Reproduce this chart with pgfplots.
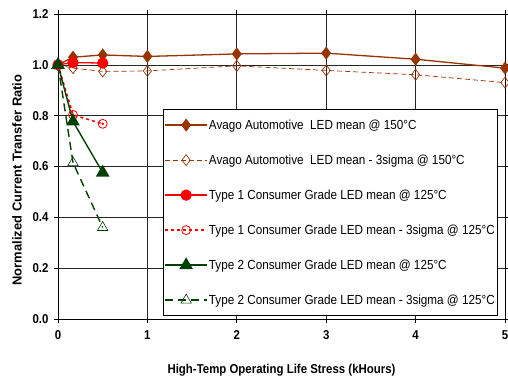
\documentclass[border=0pt]{standalone}
\usepackage{pgfplots}
\pgfplotsset{compat=1.18}
\usepackage{fontspec}
\setmainfont{Liberation Sans}
\newfontfamily\nfont[FakeStretch=0.89]{Liberation Sans}
\definecolor{avago}{RGB}{153,51,0}
\definecolor{tgreen}{RGB}{0,64,0}
\begin{document}
\begin{tikzpicture}[x=1bp,y=1bp]
\path[use as bounding box] (-58bp,-59bp) rectangle (450bp,319bp);
\begin{axis}[
  at={(0,0)}, anchor=south west,
  scale only axis,
  width=447bp, height=305bp,
  xmin=0, xmax=5, ymin=0, ymax=1.2,
  xtick={0,1,2,3,4,5},
  ytick={0,0.2,0.4,0.6,0.8,1.0,1.2},
  yticklabel style={/pgf/number format/fixed,/pgf/number format/fixed zerofill,/pgf/number format/precision=1},
  /pgf/number format/assume math mode=true,
  ticklabel style={font=\nfont\fontsize{12.9}{14}\selectfont\bfseries},
  xticklabel style={yshift=-4bp},
  yticklabel style={xshift=-2bp},
  xlabel={High-Temp Operating Life Stress (kHours)},
  ylabel={Normalized Current Transfer Ratio},
  xlabel style={font=\nfont\fontsize{12.9}{14}\selectfont\bfseries, at={(axis description cs:0.5,-0.167)}, anchor=center},
  ylabel style={font=\fontsize{13}{14}\selectfont\bfseries, at={(axis description cs:-0.092,0.456)}, anchor=center},
  grid=major,
  major grid style={black!85, line width=0.6pt},
  axis line style={black, line width=0.9pt},
  tick align=outside,
  major tick length=4bp,
  tick style={black, line width=0.8pt},
  legend style={at={(0.235,0.01)}, anchor=south west, draw=black, line width=0.6pt, fill=white,
    font=\nfont\fontsize{13.2}{14}\selectfont, row sep=20bp, inner xsep=1bp, inner ysep=8bp,
    nodes={inner xsep=1bp}, cells={anchor=west}},
  legend cell align=left,
  legend image code/.code={
    \draw[#1] (0bp,0bp) -- (42bp,0bp);
    \draw[#1, solid] plot coordinates {(21bp,0bp)};
  },
]
\addplot[avago, line width=1.3pt, mark=diamond*, mark size=5.5bp, mark options={fill=avago}]
 coordinates {(0,1.0) (0.168,1.030) (0.5,1.039) (1,1.033) (2,1.043) (3,1.046) (4,1.022) (5,0.987)};
\addlegendentry{Avago Automotive\ \ LED mean @ 150°C}
\addplot[avago, line width=0.7pt, dash pattern=on 5bp off 3bp, mark=diamond, mark size=5.5bp, mark options={solid, fill=white}]
 coordinates {(0,1.0) (0.168,0.987) (0.5,0.974) (1,0.976) (2,0.996) (3,0.978) (4,0.961) (5,0.930)};
\addlegendentry{Avago Automotive\ \ LED mean - 3sigma @ 150°C}
\addplot[red, line width=1.3pt, mark=*, mark size=5bp]
 coordinates {(0,1.0) (0.168,1.009) (0.5,1.007)};
\addlegendentry{Type 1 Consumer Grade LED mean @ 125°C}
\addplot[red, line width=1.6pt, dash pattern=on 3bp off 3bp, mark=o, mark size=4.5bp, mark options={solid, line width=0.8pt, fill=white}]
 coordinates {(0,1.0) (0.168,0.803) (0.5,0.768)};
\addlegendentry{Type 1 Consumer Grade LED mean - 3sigma @ 125°C}
\addplot[red, only marks, mark=*, mark size=1bp, forget plot]
 coordinates {(0.168,0.803) (0.5,0.768)};
\addplot[tgreen, line width=1.4pt, mark=triangle*, mark size=6.5bp, mark options={fill=tgreen}]
 coordinates {(0,1.0) (0.168,0.777) (0.5,0.576)};
\addlegendentry{Type 2 Consumer Grade LED mean @ 125°C}
\addplot[tgreen, line width=1.4pt, dash pattern=on 8bp off 5bp, mark=triangle, mark size=6bp, mark options={solid, line width=0.6pt, fill=white}]
 coordinates {(0,1.0) (0.168,0.615) (0.5,0.360)};
\addlegendentry{Type 2 Consumer Grade LED mean - 3sigma @ 125°C}
\end{axis}
\end{tikzpicture}
\end{document}
